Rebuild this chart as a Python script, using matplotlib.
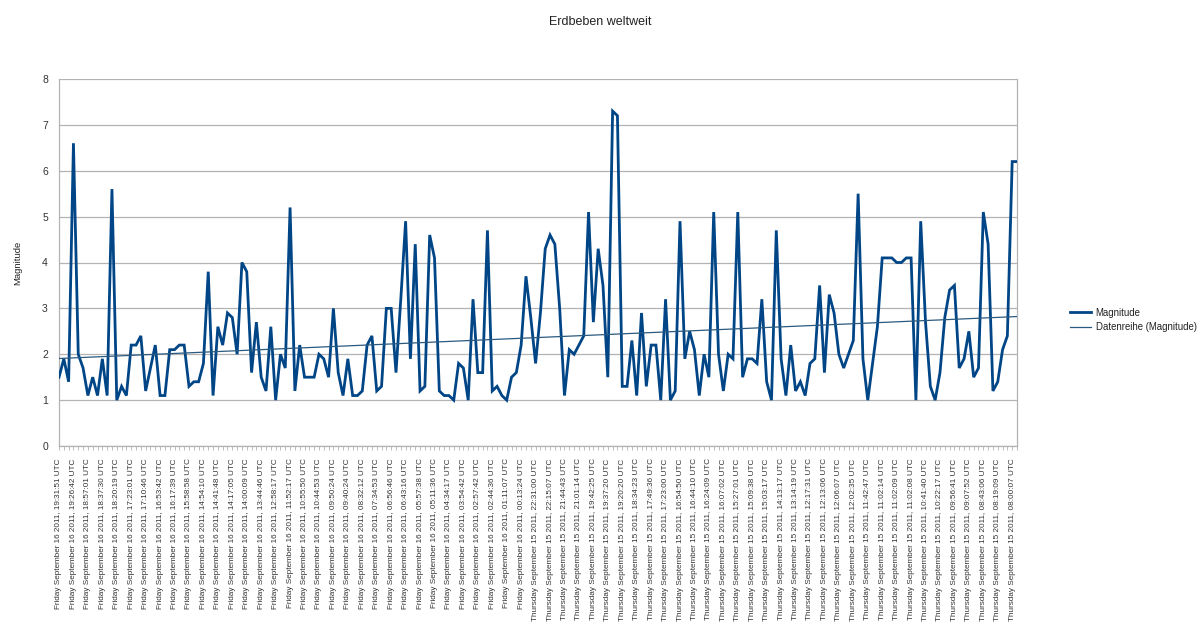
import numpy as np
import matplotlib
matplotlib.use("Agg")
import matplotlib.pyplot as plt

plt.rcParams['font.family'] = ['Liberation Sans', 'DejaVu Sans']

magnitude = [
    1.5, 1.9, 1.4, 6.6, 2.0, 1.7, 1.1, 1.5, 1.1, 1.9,
    1.1, 5.6, 1.0, 1.3, 1.1, 2.2, 2.2, 2.4, 1.2, 1.7,
    2.2, 1.1, 1.1, 2.1, 2.1, 2.2, 2.2, 1.3, 1.4, 1.4,
    1.8, 3.8, 1.1, 2.6, 2.2, 2.9, 2.8, 2.0, 4.0, 3.8,
    1.6, 2.7, 1.5, 1.2, 2.6, 1.0, 2.0, 1.7, 5.2, 1.2,
    2.2, 1.5, 1.5, 1.5, 2.0, 1.9, 1.5, 3.0, 1.6, 1.1,
    1.9, 1.1, 1.1, 1.2, 2.2, 2.4, 1.2, 1.3, 3.0, 3.0,
    1.6, 3.2, 4.9, 1.9, 4.4, 1.2, 1.3, 4.6, 4.1, 1.2,
    1.1, 1.1, 1.0, 1.8, 1.7, 1.0, 3.2, 1.6, 1.6, 4.7,
    1.2, 1.3, 1.1, 1.0, 1.5, 1.6, 2.2, 3.7, 2.8, 1.8,
    2.9, 4.3, 4.6, 4.4, 3.0, 1.1, 2.1, 2.0, 2.2, 2.4,
    5.1, 2.7, 4.3, 3.5, 1.5, 7.3, 7.2, 1.3, 1.3, 2.3,
    1.1, 2.9, 1.3, 2.2, 2.2, 1.0, 3.2, 1.0, 1.2, 4.9,
    1.9, 2.5, 2.1, 1.1, 2.0, 1.5, 5.1, 2.0, 1.2, 2.0,
    1.9, 5.1, 1.5, 1.9, 1.9, 1.8, 3.2, 1.4, 1.0, 4.7,
    1.9, 1.1, 2.2, 1.2, 1.4, 1.1, 1.8, 1.9, 3.5, 1.6,
    3.3, 2.9, 2.0, 1.7, 2.0, 2.3, 5.5, 1.9, 1.0, 1.8,
    2.6, 4.1, 4.1, 4.1, 4.0, 4.0, 4.1, 4.1, 1.0, 4.9,
    2.7, 1.3, 1.0, 1.6, 2.8, 3.4, 3.5, 1.7, 1.9, 2.5,
    1.5, 1.7, 5.1, 4.4, 1.2, 1.4, 2.1, 2.4, 6.2, 6.2,
]

fri = "Friday September 16 2011, {} UTC"
thu = "Thursday September 15 2011, {} UTC"
friday_times = [
    "19:31:51", "19:26:42", "18:57:01", "18:37:30", "18:20:19", "17:23:01",
    "17:10:46", "16:53:42", "16:17:39", "15:58:58", "14:54:10", "14:41:48",
    "14:17:05", "14:00:09", "13:44:46", "12:58:17", "11:52:17", "10:55:50",
    "10:44:53", "09:50:24", "09:40:24", "08:32:12", "07:34:53", "06:56:46",
    "06:43:16", "05:57:38", "05:11:36", "04:34:17", "03:54:42", "02:57:42",
    "02:44:36", "01:11:07", "00:13:24",
]
thursday_times = [
    "22:31:00", "22:15:07", "21:44:43", "21:01:14", "19:42:25", "19:37:20",
    "19:20:20", "18:34:23", "17:49:36", "17:23:00", "16:54:50", "16:44:10",
    "16:24:09", "16:07:02", "15:27:01", "15:09:38", "15:03:17", "14:13:17",
    "13:14:19", "12:17:31", "12:13:06", "12:06:07", "12:02:35", "11:42:47",
    "11:02:14", "11:02:09", "11:02:08", "10:41:40", "10:22:17", "09:56:41",
    "09:07:52", "08:43:06", "08:19:09", "08:00:07",
]
tick_labels = [fri.format(t) for t in friday_times] + [thu.format(t) for t in thursday_times]
label_step = 3

x = np.arange(len(magnitude))
y = np.array(magnitude)
slope, intercept = np.polyfit(x, y, 1)
trend = slope * x + intercept

W, H = 1200, 644
fig = plt.figure(figsize=(W / 100, H / 100), dpi=100)
ax = fig.add_axes([59 / W, 1 - 446 / H, (1017 - 59) / W, (446 - 79) / H])

color = '#004586'
ax.plot(x, y, color=color, lw=2.0, solid_joinstyle='miter', label='Magnitude', zorder=3)
ax.plot(x, trend, color='#2a5a80', lw=0.9, label='Datenreihe (Magnitude)', zorder=4)

ax.set_xlim(0, len(magnitude) - 1)
ax.set_ylim(0, 8)
ax.set_yticks(range(0, 9))
ax.yaxis.grid(True, color='#b3b3b3', lw=0.9)
ax.set_axisbelow(True)

labels = [''] * len(magnitude)
for k, lab in enumerate(tick_labels):
    labels[k * label_step] = lab
ax.set_xticks(x)
ax.set_xticklabels(labels, rotation=90, fontsize=5.9, color='#333333', va='top', ha='center')
ax.tick_params(axis='x', length=3, width=0.6, color='#b3b3b3', pad=6)
ax.tick_params(axis='y', length=0, labelsize=7.5, labelcolor='#333333', pad=8)

for s in ['left', 'bottom', 'right']:
    ax.spines[s].set_color('#b3b3b3')
    ax.spines[s].set_linewidth(0.9)
ax.spines['top'].set_visible(False)

ax.set_ylabel('Magnitude', fontsize=6.8, color='#222222', labelpad=14)

fig.text(0.5, 1 - 22 / H, 'Erdbeben weltweit', ha='center', va='center', fontsize=9, color='#222222')

leg = fig.legend(loc='center left', bbox_to_anchor=(1064 / W, 1 - 320 / H), frameon=False,
                 fontsize=6.9, handlelength=2.2, handletextpad=0.5, labelspacing=0.45,
                 borderaxespad=0.2)
for t in leg.get_texts():
    t.set_color('#222222')

fig.savefig('out.png', dpi=100)
